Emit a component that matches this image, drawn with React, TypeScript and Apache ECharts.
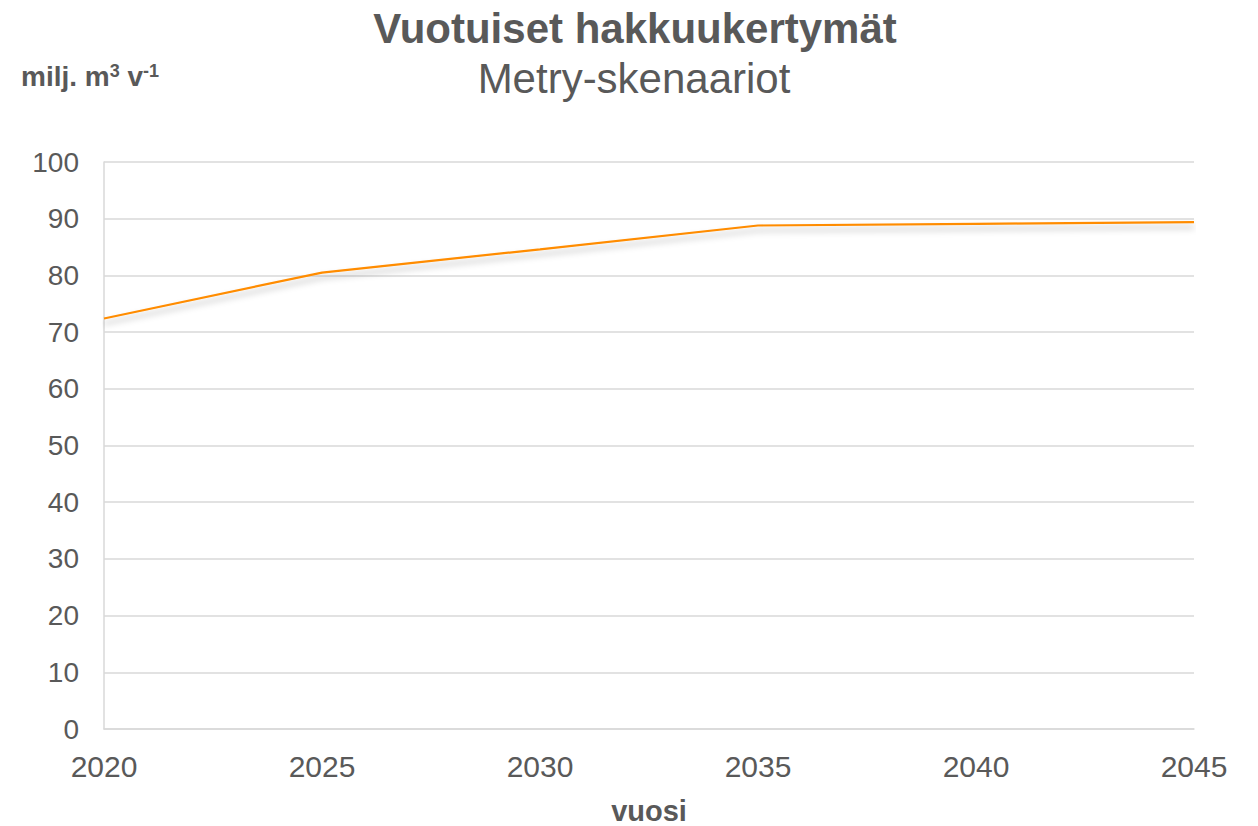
import React, { useEffect, useRef } from "react";
import * as echarts from "echarts";

const years = [2020, 2025, 2030, 2035, 2040, 2045];
const harvest = [72.4, 80.5, 84.6, 88.8, 89.1, 89.4];
const titleText = "Vuotuiset hakkuukertymät";
const subtitleText = "Metry-skenaariot";
const xAxisName = "vuosi";

const FONT = "'Liberation Sans', Arial, sans-serif";
const TXT = "#595959";

export default function App() {
  const ref = useRef<HTMLDivElement>(null);
  useEffect(() => {
    if (!ref.current) return;
    const chart = echarts.init(ref.current, undefined, { renderer: "svg" });
    chart.setOption({
      animation: false,
      backgroundColor: "#ffffff",
      grid: { left: 104, right: 64, top: 162, bottom: 97, containLabel: false, outerBoundsMode: "none" },
      xAxis: {
        type: "value",
        min: 2020,
        max: 2045,
        interval: 5,
        axisLine: { show: true, lineStyle: { color: "#d9d9d9", width: 1.5 } },
        axisTick: { show: false },
        splitLine: { show: false },
        axisLabel: {
          color: TXT,
          fontFamily: FONT,
          fontSize: 30,
          margin: 22,
          formatter: (v: number) => String(v),
          showMinLabel: true,
          showMaxLabel: true,
        },
        name: xAxisName,
        nameLocation: "middle",
        nameGap: 67,
        nameTextStyle: { color: TXT, fontFamily: FONT, fontSize: 29, fontWeight: "bold" },
      },
      yAxis: {
        type: "value",
        min: 0,
        max: 100,
        interval: 10,
        axisLine: { show: true, lineStyle: { color: "#d9d9d9", width: 1.5 } },
        axisTick: { show: false },
        splitLine: { show: true, lineStyle: { color: "#d9d9d9", width: 1.5 } },
        axisLabel: { color: TXT, fontFamily: FONT, fontSize: 28, margin: 25 },
      },
      series: [
        {
          type: "line",
          data: years.map((y, i) => [y, harvest[i]]),
          showSymbol: false,
          symbol: "none",
          lineStyle: {
            color: "#ff8c00",
            width: 2.2,
            shadowColor: "rgba(0,0,0,0.28)",
            shadowBlur: 6,
            shadowOffsetY: 5,
          },
          itemStyle: { color: "#ff8c00" },
        },
      ],
      graphic: [
        {
          type: "text",
          x: 635,
          y: 28,
          style: {
            text: titleText,
            fill: TXT,
            font: `bold 42px ${FONT}`,
            textAlign: "center",
            textVerticalAlign: "middle",
          },
        },
        {
          type: "text",
          x: 634,
          y: 78,
          style: {
            text: subtitleText,
            fill: TXT,
            font: `42px ${FONT}`,
            textAlign: "center",
            textVerticalAlign: "middle",
          },
        },
        {
          type: "text",
          x: 21,
          y: 76,
          style: {
            text: "{b|milj. m}{s|3}{b| v}{s|-1}",
            fill: TXT,
            textVerticalAlign: "middle",
            rich: {
              b: { fontFamily: FONT, fontSize: 28, fontWeight: "bold", fill: TXT, color: TXT },
              s: { fontFamily: FONT, fontSize: 18, fontWeight: "bold", fill: TXT, color: TXT, verticalAlign: "top", padding: [0, 0, 10, 0] },
            },
          },
        },
      ],
    });
    return () => chart.dispose();
  }, []);
  return <div ref={ref} style={{ position: "absolute", left: 0, top: 0, width: 1258, height: 826 }} />;
}
